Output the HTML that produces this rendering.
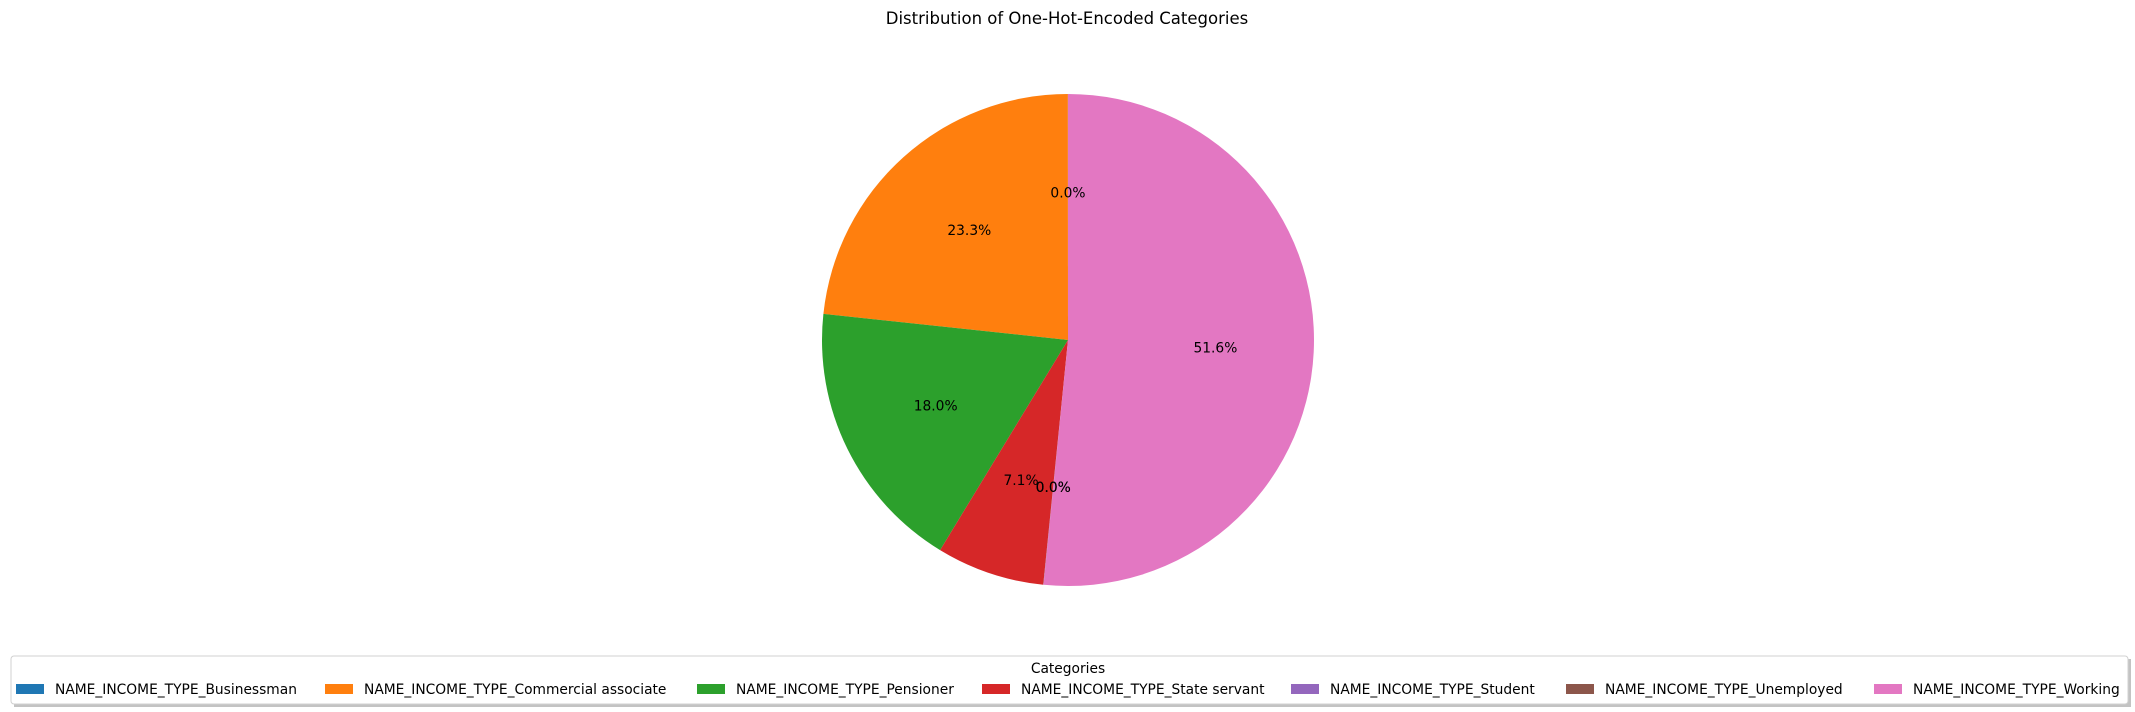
<!DOCTYPE html>
<html><head><meta charset="utf-8"><style>
html,body{margin:0;padding:0;background:#fff;}
svg{display:block;font-family:"DejaVu Sans","Liberation Sans",sans-serif;}
</style></head><body>
<svg id="chart" width="2135" height="712" viewBox="0 0 2135 712">
<text x="1067" y="24" text-anchor="middle" font-size="16.5" fill="#000">Distribution of One-Hot-Encoded Categories</text>
<g id="slices"></g>
<g id="labels"></g>
<g>
<rect x="14" y="659" width="2117" height="48" fill="#888" opacity="0.5"/>
<rect x="11" y="656" width="2117" height="48" rx="3" fill="#fff" stroke="#d0d0d0" stroke-width="1"/>
<text x="1068" y="673" text-anchor="middle" font-size="13.8" fill="#000">Categories</text>
<g id="legendItems"></g>
</g>
</svg>
<script>
const categories = ["NAME_INCOME_TYPE_Businessman","NAME_INCOME_TYPE_Commercial associate","NAME_INCOME_TYPE_Pensioner","NAME_INCOME_TYPE_State servant","NAME_INCOME_TYPE_Student","NAME_INCOME_TYPE_Unemployed","NAME_INCOME_TYPE_Working"];
const values = [0.01, 23.3, 18.0, 7.1, 0.01, 0.01, 51.6];
const colors = ["#1f77b4","#ff7f0e","#2ca02c","#d62728","#9467bd","#8c564b","#e377c2"];
const legendX = [16, 325, 697, 982, 1291, 1566, 1874];

const NS = "http://www.w3.org/2000/svg";
const cx = 1068, cy = 340, r = 246;
const total = values.reduce((a,b)=>a+b,0);
const sg = document.getElementById('slices');
const lg = document.getElementById('labels');
let ang = 90;
function pt(a, rr){ const t = a*Math.PI/180; return [cx + rr*Math.cos(t), cy - rr*Math.sin(t)]; }
values.forEach((v,i)=>{
  const sweep = v/total*360;
  const a0 = ang, a1 = ang + sweep;
  const p0 = pt(a0, r), p1 = pt(a1, r);
  const large = sweep > 180 ? 1 : 0;
  const path = document.createElementNS(NS,'path');
  path.setAttribute('d', `M${cx},${cy} L${p0[0]},${p0[1]} A${r},${r} 0 ${large} 0 ${p1[0]},${p1[1]} Z`);
  path.setAttribute('fill', colors[i]);
  
  
  sg.appendChild(path);
  const mid = (a0 + a1)/2;
  const lp = pt(mid, r*0.6);
  const t = document.createElementNS(NS,'text');
  t.setAttribute('x', lp[0]); t.setAttribute('y', lp[1] + 5);
  t.setAttribute('text-anchor','middle'); t.setAttribute('font-size','13.8');
  t.textContent = (v/total*100).toFixed(1) + '%';
  
  
  lg.appendChild(t);
  ang = a1;
});
const li = document.getElementById('legendItems');
categories.forEach((c,i)=>{
  const g = document.createElementNS(NS,'g');
  
  
  const rc = document.createElementNS(NS,'rect');
  rc.setAttribute('x', legendX[i]); rc.setAttribute('y', 684);
  rc.setAttribute('width', 28); rc.setAttribute('height', 10);
  rc.setAttribute('fill', colors[i]);
  
  
  const tx = document.createElementNS(NS,'text');
  tx.setAttribute('x', legendX[i] + 39); tx.setAttribute('y', 694);
  tx.setAttribute('font-size','13.8');
  tx.textContent = c;
  
  
  g.appendChild(rc); g.appendChild(tx); li.appendChild(g);
});
</script>
</body></html>
